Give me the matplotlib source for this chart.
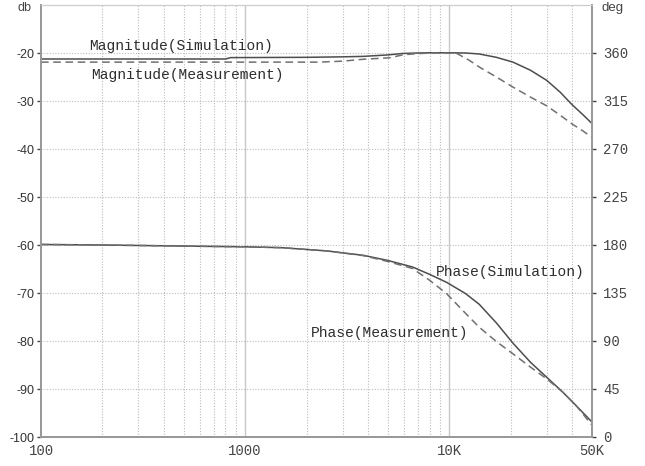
import matplotlib
matplotlib.use("Agg")
import matplotlib.pyplot as plt
from matplotlib.ticker import FixedLocator, NullFormatter

# ---- data ----
freq_mag_sim = [100, 200, 500, 800, 850, 1000, 2000, 3000, 3800, 5000, 5900, 7000, 8000,
                10000, 12000, 14000, 17000, 20500, 25000, 30000, 35000, 40000, 45000, 50000]
mag_sim = [-21.25, -21.25, -21.25, -21.25, -20.96, -20.95, -20.9, -20.8, -20.7, -20.4, -20.1,
           -20.0, -19.95, -19.95, -20.0, -20.2, -20.9, -21.9, -23.6, -25.7, -28.2, -30.8, -32.8, -34.7]

freq_mag_meas = [100, 500, 1000, 2300, 3000, 3800, 5100, 5900, 6600, 8000, 9500, 10900, 12500,
                 14000, 17000, 20500, 25000, 30000, 35000, 40000, 45000, 50000]
mag_meas = [-21.9, -21.9, -21.9, -21.9, -21.7, -21.3, -21.0, -20.4, -20.2, -20.0, -20.0, -20.1,
            -21.5, -22.9, -25.0, -27.1, -29.2, -31.0, -33.0, -34.8, -36.2, -37.6]

freq_phase = [100, 200, 500, 1000, 1500, 2500, 3800, 5000, 6600, 8000, 9700, 12000, 14000,
              17000, 20500, 25000, 30000, 36000, 42000, 50000]
phase_sim = [180.5, 180, 179, 178.3, 177.5, 174.5, 170.3, 165.5, 159.4, 152.5, 145, 134.5, 124.5,
             107, 88, 70, 56, 42, 29, 14]
phase_meas = [180.5, 180, 179, 178.3, 177.5, 174.5, 170, 164.5, 158, 147, 134.4, 116, 103,
              89.5, 78, 65.5, 54.5, 42, 29, 11]

xtick_vals = [100, 1000, 10000, 50000]
xtick_labels = ["100", "1000", "10K", "50K"]
db_ticks = [-100, -90, -80, -70, -60, -50, -40, -30, -20]
deg_ticks = [0, 45, 90, 135, 180, 225, 270, 315, 360]

# ---- figure ----
fig = plt.figure(figsize=(6.45, 4.66), dpi=100)
ax = fig.add_axes([41/645, 1 - 437/466, (592-41)/645, (437-5)/466])
ax2 = ax.twinx()

ax.set_xscale("log")
ax.set_xlim(100, 50000)
ax.set_ylim(-100, -10)
ax2.set_ylim(0, 405)

line_col = "#4d4d4d"
dash_col = "#707070"
grid_col = "#bbbbbb"

# grid
minor = [m * d for d in (100, 1000, 10000) for m in range(2, 10) if m * d < 50000]
for f in minor:
    ax.axvline(f, color=grid_col, lw=0.8, ls=(0, (1, 1.5)), zorder=0)
for f in (1000, 10000):
    ax.axvline(f, color="#c8c8c8", lw=1.0, zorder=0)
for y in db_ticks[1:]:
    ax.axhline(y, color=grid_col, lw=0.8, ls=(0, (1, 1.5)), zorder=0)

ax.plot(freq_mag_sim, mag_sim, color=line_col, lw=1.1)
ax.plot(freq_mag_meas, mag_meas, color=dash_col, lw=1.1, ls=(0, (5, 3)))
ax2.plot(freq_phase, phase_sim, color=line_col, lw=1.1)
ax2.plot(freq_phase, phase_meas, color=dash_col, lw=1.1, ls=(0, (5, 3)))

mono = "Liberation Mono"
ax.set_xticks(xtick_vals)
ax.set_xticklabels(xtick_labels, family=mono, fontsize=10, color="#444444")
ax.xaxis.set_minor_locator(FixedLocator([]))
ax.xaxis.set_minor_formatter(NullFormatter())
ax.tick_params(axis="x", length=0, pad=5)

ax.set_yticks(db_ticks)
ax.set_yticklabels([str(v) for v in db_ticks], family="Liberation Sans", fontsize=9, color="#333333")
ax.tick_params(axis="y", length=3, width=1, color="#444444", pad=2)

ax2.set_yticks(deg_ticks)
ax2.set_yticklabels([str(v) for v in deg_ticks], family=mono, fontsize=10, color="#444444")
ax2.tick_params(axis="y", length=3, width=1, color="#444444", pad=5)

for a in (ax, ax2):
    for s in a.spines.values():
        s.set_color("#999999")
        s.set_linewidth(1.3)
    a.spines["top"].set_color("#cccccc")
    a.spines["top"].set_linewidth(0.8)

# axis unit labels
fig.text(25/645, 1 - 8/466, "db", family="Liberation Sans", fontsize=9, color="#444444",
         ha="center", va="center")
fig.text(613/645, 1 - 8/466, "deg", family="Liberation Sans", fontsize=9.5, color="#444444",
         ha="center", va="center")

# annotations
def ann(x, y, s):
    fig.text(x/645, 1 - y/466, s, family=mono, fontsize=10.5, color="#2e2e2e",
             ha="left", va="center")

ann(89, 46, "Magnitude(Simulation)")
ann(91, 75, "Magnitude(Measurement)")
ann(436, 272, "Phase(Simulation)")
ann(311, 333, "Phase(Measurement)")

fig.savefig("out.png", dpi=100)
